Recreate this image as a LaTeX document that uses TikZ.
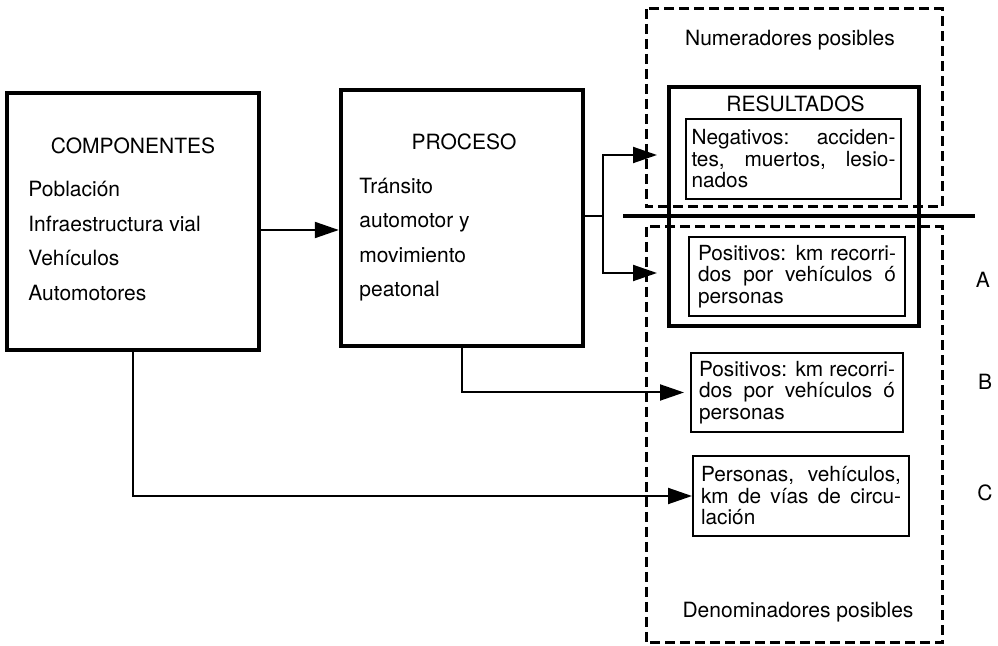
\documentclass[tikz,border=0pt]{standalone}
\usepackage{fontspec}
\setmainfont{TeX Gyre Heros}
\usetikzlibrary{arrows.meta}

\newcommand{\jline}[2]{\makebox[#1][s]{#2}}

\tikzset{
  bigbox/.style={draw, line width=2.2pt, inner sep=0pt},
  smallbox/.style={draw, line width=1pt, align=left, inner sep=0pt,
    font=\fontsize{10.4}{10.75}\selectfont},
  frame/.style={line width=1.5pt, dash pattern=on 5pt off 2.5pt},
  txt/.style={font=\fontsize{10.5}{12}\selectfont, inner sep=0pt,
    text height=7.5pt, text depth=0pt},
  arr/.style={line width=1pt, -{Triangle[length=12pt,width=8pt]}},
}

\begin{document}
\begin{tikzpicture}[x=0.5pt,y=-0.5pt]
		\useasboundingbox (0,0) rectangle (998,646);
		
		% Dashed frames and the separating line
		\draw[frame] (646,9) rectangle (942,207);
		\draw[frame] (646,227) rectangle (942,643);
		\draw[line width=2.2pt] (623,216) -- (975,216);
		\node[txt] (numtitle) at (790,38) {Numeradores posibles};
		\node[txt] (dentitle) at (798,610) {Denominadores posibles};
		
		% Components
		\node[bigbox, minimum width=126pt, minimum height=128.5pt] (comp) at (133,221.5) {};
		\node[txt] (comptitle) at (133,146) {COMPONENTES};
		\foreach \txt [count=\i] in {Población, Infraestructura vial, Vehículos, Automotores}
			\node[txt, anchor=west] (comp\i) at (28,{189+34.7*(\i-1)}) {\txt};
		
		% Process
		\node[bigbox, minimum width=121pt, minimum height=128pt] (proc) at (462,218) {};
		\node[txt] (proctitle) at (464,142) {PROCESO};
		\foreach \txt [count=\i] in {Tránsito, automotor y, movimiento, peatonal}
			\node[txt, anchor=west] (proc\i) at (359,{186+34.3*(\i-1)}) {\txt};
		
		% Results
		\node[bigbox, line width=2pt, minimum width=125pt, minimum height=119.5pt] (res) at (794,206.5) {};
		\node[txt] (restitle) at (795.5,104) {RESULTADOS};
		\node[smallbox, minimum width=107.5pt, minimum height=40pt] (neg) at (793.5,159)
			{\jline{102pt}{Negativos: acciden-}\\\jline{102pt}{tes, muertos, lesio-}\\nados};
		\node[smallbox, minimum width=108pt, minimum height=39.5pt] (posA) at (797,276.5)
			{\jline{99pt}{Positivos: km recorri-}\\\jline{99pt}{dos por vehículos ó}\\personas};
		
		% Denominators
		\node[smallbox, minimum width=106pt, minimum height=39.5pt] (posB) at (797,392.5)
			{\jline{98pt}{Positivos: km recorri-}\\\jline{98pt}{dos por vehículos ó}\\personas};
		\node[smallbox, minimum width=108pt, minimum height=40pt] (pers) at (801,496)
			{\jline{100pt}{Personas, vehículos,}\\\jline{100pt}{km de vías de circu-}\\lación};
		
		\node[txt] (labA) at (983,280) {A};
		\node[txt] (labB) at (985,382) {B};
		\node[txt] (labC) at (985,493) {C};
		
		% Connectors
		\draw[arr] ([yshift=-4.25pt]comp.east) -- ([yshift=-4.25pt]comp.east -| proc.west);
		\coordinate (fork) at (603,216);
		\coordinate (tipneg) at (657,155);
		\coordinate (tippos) at (657,273);
		\draw[line width=1pt] (fork -| proc.east) -- (fork);
		\draw[arr] (fork) |- (tipneg);
		\draw[arr] (fork) |- (tippos);
		\draw[arr, shorten >=3pt] (proc.south) |- (posB.west);
		\draw[arr] (comp.south) |- (pers.west);
	\end{tikzpicture}
\end{document}
